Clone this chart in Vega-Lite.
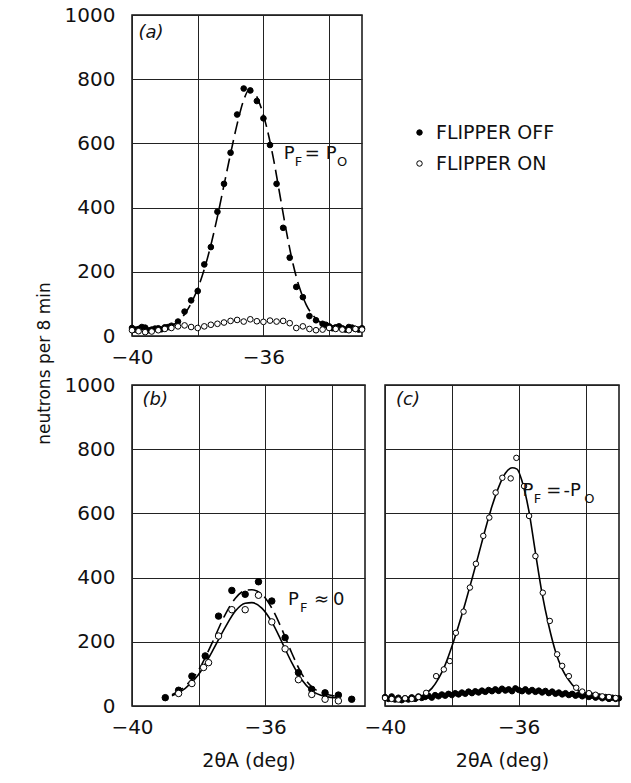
{
  "$schema": "https://vega.github.io/schema/vega-lite/v6.json",
  "padding": {"left": 34, "top": 4, "right": 5, "bottom": 5},
  "background": "white",
  "config": {
    "font": "DejaVu Sans",
    "view": {"stroke": "#111", "strokeWidth": 1.5},
    "axis": {
      "grid": true, "gridColor": "#222", "gridWidth": 1, "gridOpacity": 1,
      "domain": false, "ticks": false,
      "labelFont": "DejaVu Sans", "labelFontSize": 20, "labelColor": "#111",
      "labelFlush": false, "labelOverlap": false,
      "titleFont": "DejaVu Sans", "titleFontWeight": "normal", "titleColor": "#111"
    },
    "axisX": {"labelPadding": 11, "labelDx": -5},
    "axisY": {"labelPadding": 17}
  },
  "datasets": {
    "pts": [
      {"panel":"a","series":"FLIPPER OFF","x":-40.0,"y":25},{"panel":"a","series":"FLIPPER OFF","x":-39.9,"y":20},{"panel":"a","series":"FLIPPER OFF","x":-39.8,"y":22},{"panel":"a","series":"FLIPPER OFF","x":-39.7,"y":28},{"panel":"a","series":"FLIPPER OFF","x":-39.6,"y":26},{"panel":"a","series":"FLIPPER OFF","x":-39.5,"y":18},{"panel":"a","series":"FLIPPER OFF","x":-39.4,"y":20},{"panel":"a","series":"FLIPPER OFF","x":-39.3,"y":23},{"panel":"a","series":"FLIPPER OFF","x":-39.2,"y":24},{"panel":"a","series":"FLIPPER OFF","x":-39.1,"y":21},{"panel":"a","series":"FLIPPER OFF","x":-39.0,"y":27},{"panel":"a","series":"FLIPPER OFF","x":-38.9,"y":28},{"panel":"a","series":"FLIPPER OFF","x":-38.8,"y":32},{"panel":"a","series":"FLIPPER OFF","x":-38.6,"y":45},{"panel":"a","series":"FLIPPER OFF","x":-38.4,"y":76},{"panel":"a","series":"FLIPPER OFF","x":-38.2,"y":111},{"panel":"a","series":"FLIPPER OFF","x":-38.0,"y":140},{"panel":"a","series":"FLIPPER OFF","x":-37.8,"y":223},{"panel":"a","series":"FLIPPER OFF","x":-37.6,"y":277},{"panel":"a","series":"FLIPPER OFF","x":-37.4,"y":387},{"panel":"a","series":"FLIPPER OFF","x":-37.2,"y":474},{"panel":"a","series":"FLIPPER OFF","x":-37.0,"y":571},{"panel":"a","series":"FLIPPER OFF","x":-36.8,"y":690},{"panel":"a","series":"FLIPPER OFF","x":-36.6,"y":771},{"panel":"a","series":"FLIPPER OFF","x":-36.4,"y":765},{"panel":"a","series":"FLIPPER OFF","x":-36.2,"y":732},{"panel":"a","series":"FLIPPER OFF","x":-36.0,"y":678},{"panel":"a","series":"FLIPPER OFF","x":-35.8,"y":595},{"panel":"a","series":"FLIPPER OFF","x":-35.6,"y":474},{"panel":"a","series":"FLIPPER OFF","x":-35.4,"y":337},{"panel":"a","series":"FLIPPER OFF","x":-35.2,"y":244},{"panel":"a","series":"FLIPPER OFF","x":-35.0,"y":153},{"panel":"a","series":"FLIPPER OFF","x":-34.8,"y":121},{"panel":"a","series":"FLIPPER OFF","x":-34.6,"y":62},{"panel":"a","series":"FLIPPER OFF","x":-34.4,"y":49},{"panel":"a","series":"FLIPPER OFF","x":-34.2,"y":38},{"panel":"a","series":"FLIPPER OFF","x":-34.1,"y":35},{"panel":"a","series":"FLIPPER OFF","x":-34.0,"y":30},{"panel":"a","series":"FLIPPER OFF","x":-33.9,"y":24},{"panel":"a","series":"FLIPPER OFF","x":-33.8,"y":27},{"panel":"a","series":"FLIPPER OFF","x":-33.7,"y":30},{"panel":"a","series":"FLIPPER OFF","x":-33.6,"y":24},{"panel":"a","series":"FLIPPER OFF","x":-33.5,"y":20},{"panel":"a","series":"FLIPPER OFF","x":-33.4,"y":28},{"panel":"a","series":"FLIPPER OFF","x":-33.3,"y":26},{"panel":"a","series":"FLIPPER OFF","x":-33.2,"y":22},{"panel":"a","series":"FLIPPER OFF","x":-33.1,"y":20},{"panel":"a","series":"FLIPPER OFF","x":-33.0,"y":24},
      {"panel":"a","series":"FLIPPER ON","x":-40.0,"y":18},{"panel":"a","series":"FLIPPER ON","x":-39.8,"y":15},{"panel":"a","series":"FLIPPER ON","x":-39.6,"y":12},{"panel":"a","series":"FLIPPER ON","x":-39.4,"y":14},{"panel":"a","series":"FLIPPER ON","x":-39.2,"y":18},{"panel":"a","series":"FLIPPER ON","x":-39.0,"y":22},{"panel":"a","series":"FLIPPER ON","x":-38.8,"y":25},{"panel":"a","series":"FLIPPER ON","x":-38.6,"y":30},{"panel":"a","series":"FLIPPER ON","x":-38.4,"y":33},{"panel":"a","series":"FLIPPER ON","x":-38.2,"y":28},{"panel":"a","series":"FLIPPER ON","x":-38.0,"y":25},{"panel":"a","series":"FLIPPER ON","x":-37.8,"y":30},{"panel":"a","series":"FLIPPER ON","x":-37.6,"y":35},{"panel":"a","series":"FLIPPER ON","x":-37.4,"y":38},{"panel":"a","series":"FLIPPER ON","x":-37.2,"y":42},{"panel":"a","series":"FLIPPER ON","x":-37.0,"y":47},{"panel":"a","series":"FLIPPER ON","x":-36.8,"y":50},{"panel":"a","series":"FLIPPER ON","x":-36.6,"y":45},{"panel":"a","series":"FLIPPER ON","x":-36.4,"y":52},{"panel":"a","series":"FLIPPER ON","x":-36.2,"y":46},{"panel":"a","series":"FLIPPER ON","x":-36.0,"y":44},{"panel":"a","series":"FLIPPER ON","x":-35.8,"y":48},{"panel":"a","series":"FLIPPER ON","x":-35.6,"y":45},{"panel":"a","series":"FLIPPER ON","x":-35.4,"y":47},{"panel":"a","series":"FLIPPER ON","x":-35.2,"y":40},{"panel":"a","series":"FLIPPER ON","x":-35.0,"y":25},{"panel":"a","series":"FLIPPER ON","x":-34.8,"y":30},{"panel":"a","series":"FLIPPER ON","x":-34.6,"y":22},{"panel":"a","series":"FLIPPER ON","x":-34.4,"y":18},{"panel":"a","series":"FLIPPER ON","x":-34.2,"y":20},{"panel":"a","series":"FLIPPER ON","x":-34.0,"y":25},{"panel":"a","series":"FLIPPER ON","x":-33.8,"y":22},{"panel":"a","series":"FLIPPER ON","x":-33.6,"y":20},{"panel":"a","series":"FLIPPER ON","x":-33.4,"y":18},{"panel":"a","series":"FLIPPER ON","x":-33.2,"y":22},{"panel":"a","series":"FLIPPER ON","x":-33.0,"y":20},
      {"panel":"b","series":"FLIPPER OFF","x":-39.0,"y":26},{"panel":"b","series":"FLIPPER OFF","x":-38.6,"y":49},{"panel":"b","series":"FLIPPER OFF","x":-38.2,"y":93},{"panel":"b","series":"FLIPPER OFF","x":-37.8,"y":156},{"panel":"b","series":"FLIPPER OFF","x":-37.4,"y":280},{"panel":"b","series":"FLIPPER OFF","x":-37.0,"y":360},{"panel":"b","series":"FLIPPER OFF","x":-36.6,"y":348},{"panel":"b","series":"FLIPPER OFF","x":-36.2,"y":387},{"panel":"b","series":"FLIPPER OFF","x":-35.8,"y":327},{"panel":"b","series":"FLIPPER OFF","x":-35.4,"y":213},{"panel":"b","series":"FLIPPER OFF","x":-35.0,"y":104},{"panel":"b","series":"FLIPPER OFF","x":-34.6,"y":52},{"panel":"b","series":"FLIPPER OFF","x":-34.2,"y":41},{"panel":"b","series":"FLIPPER OFF","x":-33.8,"y":34},{"panel":"b","series":"FLIPPER OFF","x":-33.4,"y":21},
      {"panel":"b","series":"FLIPPER ON","x":-38.6,"y":39},{"panel":"b","series":"FLIPPER ON","x":-38.2,"y":70},{"panel":"b","series":"FLIPPER ON","x":-37.85,"y":120},{"panel":"b","series":"FLIPPER ON","x":-37.7,"y":135},{"panel":"b","series":"FLIPPER ON","x":-37.4,"y":218},{"panel":"b","series":"FLIPPER ON","x":-37.0,"y":300},{"panel":"b","series":"FLIPPER ON","x":-36.6,"y":300},{"panel":"b","series":"FLIPPER ON","x":-36.2,"y":345},{"panel":"b","series":"FLIPPER ON","x":-35.8,"y":262},{"panel":"b","series":"FLIPPER ON","x":-35.4,"y":178},{"panel":"b","series":"FLIPPER ON","x":-35.0,"y":82},{"panel":"b","series":"FLIPPER ON","x":-34.6,"y":36},{"panel":"b","series":"FLIPPER ON","x":-34.2,"y":21},{"panel":"b","series":"FLIPPER ON","x":-33.8,"y":16},
      {"panel":"c","series":"FLIPPER OFF","x":-40.0,"y":28},{"panel":"c","series":"FLIPPER OFF","x":-39.9,"y":22},{"panel":"c","series":"FLIPPER OFF","x":-39.8,"y":30},{"panel":"c","series":"FLIPPER OFF","x":-39.7,"y":20},{"panel":"c","series":"FLIPPER OFF","x":-39.6,"y":26},{"panel":"c","series":"FLIPPER OFF","x":-39.5,"y":18},{"panel":"c","series":"FLIPPER OFF","x":-39.4,"y":24},{"panel":"c","series":"FLIPPER OFF","x":-39.3,"y":20},{"panel":"c","series":"FLIPPER OFF","x":-39.2,"y":27},{"panel":"c","series":"FLIPPER OFF","x":-39.1,"y":22},{"panel":"c","series":"FLIPPER OFF","x":-39.0,"y":30},{"panel":"c","series":"FLIPPER OFF","x":-38.9,"y":25},{"panel":"c","series":"FLIPPER OFF","x":-38.8,"y":28},{"panel":"c","series":"FLIPPER OFF","x":-38.7,"y":32},{"panel":"c","series":"FLIPPER OFF","x":-38.6,"y":26},{"panel":"c","series":"FLIPPER OFF","x":-38.5,"y":34},{"panel":"c","series":"FLIPPER OFF","x":-38.4,"y":30},{"panel":"c","series":"FLIPPER OFF","x":-38.3,"y":36},{"panel":"c","series":"FLIPPER OFF","x":-38.2,"y":32},{"panel":"c","series":"FLIPPER OFF","x":-38.1,"y":38},{"panel":"c","series":"FLIPPER OFF","x":-38.0,"y":34},{"panel":"c","series":"FLIPPER OFF","x":-37.9,"y":40},{"panel":"c","series":"FLIPPER OFF","x":-37.8,"y":36},{"panel":"c","series":"FLIPPER OFF","x":-37.7,"y":42},{"panel":"c","series":"FLIPPER OFF","x":-37.6,"y":38},{"panel":"c","series":"FLIPPER OFF","x":-37.5,"y":45},{"panel":"c","series":"FLIPPER OFF","x":-37.4,"y":40},{"panel":"c","series":"FLIPPER OFF","x":-37.3,"y":46},{"panel":"c","series":"FLIPPER OFF","x":-37.2,"y":42},{"panel":"c","series":"FLIPPER OFF","x":-37.1,"y":48},{"panel":"c","series":"FLIPPER OFF","x":-37.0,"y":44},{"panel":"c","series":"FLIPPER OFF","x":-36.9,"y":50},{"panel":"c","series":"FLIPPER OFF","x":-36.8,"y":46},{"panel":"c","series":"FLIPPER OFF","x":-36.7,"y":52},{"panel":"c","series":"FLIPPER OFF","x":-36.6,"y":47},{"panel":"c","series":"FLIPPER OFF","x":-36.5,"y":54},{"panel":"c","series":"FLIPPER OFF","x":-36.4,"y":48},{"panel":"c","series":"FLIPPER OFF","x":-36.3,"y":52},{"panel":"c","series":"FLIPPER OFF","x":-36.2,"y":46},{"panel":"c","series":"FLIPPER OFF","x":-36.1,"y":55},{"panel":"c","series":"FLIPPER OFF","x":-36.0,"y":50},{"panel":"c","series":"FLIPPER OFF","x":-35.9,"y":46},{"panel":"c","series":"FLIPPER OFF","x":-35.8,"y":52},{"panel":"c","series":"FLIPPER OFF","x":-35.7,"y":45},{"panel":"c","series":"FLIPPER OFF","x":-35.6,"y":50},{"panel":"c","series":"FLIPPER OFF","x":-35.5,"y":44},{"panel":"c","series":"FLIPPER OFF","x":-35.4,"y":48},{"panel":"c","series":"FLIPPER OFF","x":-35.3,"y":42},{"panel":"c","series":"FLIPPER OFF","x":-35.2,"y":47},{"panel":"c","series":"FLIPPER OFF","x":-35.1,"y":40},{"panel":"c","series":"FLIPPER OFF","x":-35.0,"y":45},{"panel":"c","series":"FLIPPER OFF","x":-34.9,"y":38},{"panel":"c","series":"FLIPPER OFF","x":-34.8,"y":42},{"panel":"c","series":"FLIPPER OFF","x":-34.7,"y":36},{"panel":"c","series":"FLIPPER OFF","x":-34.6,"y":40},{"panel":"c","series":"FLIPPER OFF","x":-34.5,"y":34},{"panel":"c","series":"FLIPPER OFF","x":-34.4,"y":38},{"panel":"c","series":"FLIPPER OFF","x":-34.3,"y":32},{"panel":"c","series":"FLIPPER OFF","x":-34.2,"y":36},{"panel":"c","series":"FLIPPER OFF","x":-34.1,"y":30},{"panel":"c","series":"FLIPPER OFF","x":-34.0,"y":34},{"panel":"c","series":"FLIPPER OFF","x":-33.9,"y":28},{"panel":"c","series":"FLIPPER OFF","x":-33.8,"y":32},{"panel":"c","series":"FLIPPER OFF","x":-33.7,"y":26},{"panel":"c","series":"FLIPPER OFF","x":-33.6,"y":30},{"panel":"c","series":"FLIPPER OFF","x":-33.5,"y":24},{"panel":"c","series":"FLIPPER OFF","x":-33.4,"y":28},{"panel":"c","series":"FLIPPER OFF","x":-33.3,"y":22},{"panel":"c","series":"FLIPPER OFF","x":-33.2,"y":26},{"panel":"c","series":"FLIPPER OFF","x":-33.1,"y":22},{"panel":"c","series":"FLIPPER OFF","x":-33.0,"y":24},
      {"panel":"c","series":"FLIPPER ON","x":-40.0,"y":25},{"panel":"c","series":"FLIPPER ON","x":-39.8,"y":22},{"panel":"c","series":"FLIPPER ON","x":-39.6,"y":20},{"panel":"c","series":"FLIPPER ON","x":-39.4,"y":24},{"panel":"c","series":"FLIPPER ON","x":-39.2,"y":22},{"panel":"c","series":"FLIPPER ON","x":-39.0,"y":28},{"panel":"c","series":"FLIPPER ON","x":-38.77,"y":41},{"panel":"c","series":"FLIPPER ON","x":-38.47,"y":93},{"panel":"c","series":"FLIPPER ON","x":-38.24,"y":114},{"panel":"c","series":"FLIPPER ON","x":-38.06,"y":140},{"panel":"c","series":"FLIPPER ON","x":-37.88,"y":228},{"panel":"c","series":"FLIPPER ON","x":-37.65,"y":294},{"panel":"c","series":"FLIPPER ON","x":-37.46,"y":369},{"panel":"c","series":"FLIPPER ON","x":-37.28,"y":443},{"panel":"c","series":"FLIPPER ON","x":-37.06,"y":530},{"panel":"c","series":"FLIPPER ON","x":-36.88,"y":587},{"panel":"c","series":"FLIPPER ON","x":-36.69,"y":665},{"panel":"c","series":"FLIPPER ON","x":-36.49,"y":711},{"panel":"c","series":"FLIPPER ON","x":-36.24,"y":709},{"panel":"c","series":"FLIPPER ON","x":-36.07,"y":773},{"panel":"c","series":"FLIPPER ON","x":-35.84,"y":685},{"panel":"c","series":"FLIPPER ON","x":-35.69,"y":592},{"panel":"c","series":"FLIPPER ON","x":-35.5,"y":467},{"panel":"c","series":"FLIPPER ON","x":-35.28,"y":353},{"panel":"c","series":"FLIPPER ON","x":-35.07,"y":265},{"panel":"c","series":"FLIPPER ON","x":-34.85,"y":161},{"panel":"c","series":"FLIPPER ON","x":-34.7,"y":125},{"panel":"c","series":"FLIPPER ON","x":-34.5,"y":93},{"panel":"c","series":"FLIPPER ON","x":-34.28,"y":57},{"panel":"c","series":"FLIPPER ON","x":-34.1,"y":45},{"panel":"c","series":"FLIPPER ON","x":-33.9,"y":40},{"panel":"c","series":"FLIPPER ON","x":-33.7,"y":35},{"panel":"c","series":"FLIPPER ON","x":-33.5,"y":30},{"panel":"c","series":"FLIPPER ON","x":-33.3,"y":28},{"panel":"c","series":"FLIPPER ON","x":-33.1,"y":25}
    ],
    "fits": [
      {"panel":"a","style":"dash","x":-38.9,"y":28},{"panel":"a","style":"dash","x":-38.6,"y":45},{"panel":"a","style":"dash","x":-38.4,"y":68},{"panel":"a","style":"dash","x":-38.2,"y":102},{"panel":"a","style":"dash","x":-38.0,"y":148},{"panel":"a","style":"dash","x":-37.8,"y":208},{"panel":"a","style":"dash","x":-37.6,"y":283},{"panel":"a","style":"dash","x":-37.4,"y":372},{"panel":"a","style":"dash","x":-37.2,"y":470},{"panel":"a","style":"dash","x":-37.0,"y":568},{"panel":"a","style":"dash","x":-36.8,"y":660},{"panel":"a","style":"dash","x":-36.6,"y":735},{"panel":"a","style":"dash","x":-36.45,"y":765},{"panel":"a","style":"dash","x":-36.3,"y":760},{"panel":"a","style":"dash","x":-36.1,"y":720},{"panel":"a","style":"dash","x":-35.9,"y":650},{"panel":"a","style":"dash","x":-35.7,"y":555},{"panel":"a","style":"dash","x":-35.5,"y":440},{"panel":"a","style":"dash","x":-35.3,"y":325},{"panel":"a","style":"dash","x":-35.1,"y":225},{"panel":"a","style":"dash","x":-34.9,"y":150},{"panel":"a","style":"dash","x":-34.7,"y":98},{"panel":"a","style":"dash","x":-34.5,"y":65},{"panel":"a","style":"dash","x":-34.3,"y":45},{"panel":"a","style":"dash","x":-34.0,"y":32},{"panel":"a","style":"dash","x":-33.6,"y":25},
      {"panel":"b","style":"dash","x":-38.8,"y":35},{"panel":"b","style":"dash","x":-38.4,"y":62},{"panel":"b","style":"dash","x":-38.0,"y":112},{"panel":"b","style":"dash","x":-37.6,"y":195},{"panel":"b","style":"dash","x":-37.2,"y":285},{"panel":"b","style":"dash","x":-36.9,"y":335},{"panel":"b","style":"dash","x":-36.6,"y":360},{"panel":"b","style":"dash","x":-36.4,"y":362},{"panel":"b","style":"dash","x":-36.1,"y":348},{"panel":"b","style":"dash","x":-35.8,"y":305},{"panel":"b","style":"dash","x":-35.5,"y":240},{"panel":"b","style":"dash","x":-35.2,"y":165},{"panel":"b","style":"dash","x":-34.9,"y":100},{"panel":"b","style":"dash","x":-34.6,"y":60},{"panel":"b","style":"dash","x":-34.2,"y":38},{"panel":"b","style":"dash","x":-33.8,"y":30},
      {"panel":"b","style":"solid","x":-38.8,"y":32},{"panel":"b","style":"solid","x":-38.4,"y":55},{"panel":"b","style":"solid","x":-38.0,"y":98},{"panel":"b","style":"solid","x":-37.6,"y":168},{"panel":"b","style":"solid","x":-37.2,"y":245},{"panel":"b","style":"solid","x":-36.9,"y":295},{"panel":"b","style":"solid","x":-36.6,"y":320},{"panel":"b","style":"solid","x":-36.4,"y":322},{"panel":"b","style":"solid","x":-36.1,"y":305},{"panel":"b","style":"solid","x":-35.8,"y":262},{"panel":"b","style":"solid","x":-35.5,"y":200},{"panel":"b","style":"solid","x":-35.2,"y":135},{"panel":"b","style":"solid","x":-34.9,"y":82},{"panel":"b","style":"solid","x":-34.6,"y":48},{"panel":"b","style":"solid","x":-34.2,"y":30},{"panel":"b","style":"solid","x":-33.8,"y":25},
      {"panel":"c","style":"solid","x":-39.2,"y":22},{"panel":"c","style":"solid","x":-38.8,"y":38},{"panel":"c","style":"solid","x":-38.6,"y":55},{"panel":"c","style":"solid","x":-38.4,"y":85},{"panel":"c","style":"solid","x":-38.2,"y":128},{"panel":"c","style":"solid","x":-38.0,"y":185},{"panel":"c","style":"solid","x":-37.8,"y":250},{"panel":"c","style":"solid","x":-37.6,"y":320},{"panel":"c","style":"solid","x":-37.4,"y":395},{"panel":"c","style":"solid","x":-37.2,"y":472},{"panel":"c","style":"solid","x":-37.0,"y":550},{"panel":"c","style":"solid","x":-36.8,"y":622},{"panel":"c","style":"solid","x":-36.6,"y":682},{"panel":"c","style":"solid","x":-36.4,"y":725},{"panel":"c","style":"solid","x":-36.2,"y":742},{"panel":"c","style":"solid","x":-36.05,"y":738},{"panel":"c","style":"solid","x":-35.9,"y":700},{"panel":"c","style":"solid","x":-35.7,"y":610},{"panel":"c","style":"solid","x":-35.5,"y":478},{"panel":"c","style":"solid","x":-35.3,"y":350},{"panel":"c","style":"solid","x":-35.1,"y":250},{"panel":"c","style":"solid","x":-34.9,"y":170},{"panel":"c","style":"solid","x":-34.7,"y":115},{"panel":"c","style":"solid","x":-34.5,"y":80},{"panel":"c","style":"solid","x":-34.3,"y":55},{"panel":"c","style":"solid","x":-34.0,"y":38},{"panel":"c","style":"solid","x":-33.6,"y":30},{"panel":"c","style":"solid","x":-33.0,"y":25}
    ],
    "notes": [
      {"panel":"a","kind":"tag","x":-39.42,"y":944,"label":"(a)"},
      {"panel":"a","kind":"main","x":-35.38,"y":551,"label":"P"},
      {"panel":"a","kind":"main","x":-34.74,"y":551,"label":"="},
      {"panel":"a","kind":"main","x":-34.10,"y":551,"label":"P"},
      {"panel":"a","kind":"sub","x":-35.05,"y":530,"label":"F"},
      {"panel":"a","kind":"sub","x":-33.76,"y":530,"label":"O"},
      {"panel":"b","kind":"tag","x":-39.3,"y":953,"label":"(b)"},
      {"panel":"b","kind":"main","x":-35.31,"y":315,"label":"P"},
      {"panel":"b","kind":"main","x":-34.53,"y":315,"label":"≈"},
      {"panel":"b","kind":"main","x":-33.96,"y":315,"label":"0"},
      {"panel":"b","kind":"sub","x":-34.95,"y":293,"label":"F"},
      {"panel":"c","kind":"tag","x":-39.31,"y":953,"label":"(c)"},
      {"panel":"c","kind":"main","x":-35.89,"y":654,"label":"P"},
      {"panel":"c","kind":"main","x":-35.18,"y":654,"label":"="},
      {"panel":"c","kind":"main","x":-34.66,"y":654,"label":"-P"},
      {"panel":"c","kind":"sub","x":-35.55,"y":632,"label":"F"},
      {"panel":"c","kind":"sub","x":-34.04,"y":632,"label":"O"}
    ]
  },
  "resolve": {"scale": {"fill": "independent"}, "legend": {"fill": "independent"}},
  "bounds": "flush",
  "spacing": 49,
  "vconcat": [
    {
      "width": 230, "height": 321,
      "encoding": {
        "x": {"field": "x", "type": "quantitative", "scale": {"domain": [-40, -33], "nice": false, "zero": false},
          "axis": {"title": null, "values": [-40, -38, -36, -34], "labelExpr": "datum.value == -40 || datum.value == -36 ? datum.label : ''"}},
        "y": {"field": "y", "type": "quantitative", "scale": {"domain": [0, 1000], "nice": false},
          "axis": {"values": [0, 200, 400, 600, 800, 1000], "format": "d", "title": "neutrons per 8 min", "titleX": -83, "titleY": 348, "titleAngle": -90, "titleAlign": "center", "titleBaseline": "alphabetic", "titleFontSize": 17}}
      },
      "layer": [
        {"data": {"name": "fits"}, "transform": [{"filter": "datum.panel == 'a'"}],
         "mark": {"type": "line", "stroke": "black", "strokeWidth": 1.6, "strokeDash": [13, 6], "interpolate": "monotone"}},
        {"data": {"name": "pts"}, "transform": [{"filter": "datum.panel == 'a'"}],
         "mark": {"type": "circle", "stroke": "black", "strokeWidth": 1, "size": 32, "opacity": 1},
         "encoding": {"fill": {"field": "series", "type": "nominal",
           "scale": {"domain": ["FLIPPER OFF", "FLIPPER ON"], "range": ["black", "white"]},
           "legend": {"orient": "none", "legendX": 278, "legendY": 108, "title": null, "padding": 0,
             "labelFont": "DejaVu Sans", "labelFontSize": 19, "labelColor": "#111", "labelOffset": 7,
             "symbolType": "circle", "symbolSize": 30, "symbolStrokeColor": "black", "symbolStrokeWidth": 1, "rowPadding": 11}}}},
        {"data": {"name": "notes"}, "transform": [{"filter": "datum.panel == 'a' && datum.kind == 'main'"}],
         "mark": {"type": "text", "align": "left", "baseline": "alphabetic", "fontSize": 18, "fill": "#111"},
         "encoding": {"text": {"field": "label"}}},
        {"data": {"name": "notes"}, "transform": [{"filter": "datum.panel == 'a' && datum.kind == 'sub'"}],
         "mark": {"type": "text", "align": "left", "baseline": "alphabetic", "fontSize": 13, "fill": "#111"},
         "encoding": {"text": {"field": "label"}}},
        {"data": {"name": "notes"}, "transform": [{"filter": "datum.panel == 'a' && datum.kind == 'tag'"}],
         "mark": {"type": "text", "align": "center", "baseline": "middle", "fontSize": 18, "fontStyle": "italic", "fill": "#111"},
         "encoding": {"text": {"field": "label"}}}
      ]
    },
    {
      "resolve": {"scale": {"fill": "independent"}, "legend": {"fill": "independent"}},
      "bounds": "flush",
      "spacing": 20,
      "hconcat": [
        {
          "width": 233, "height": 321,
          "encoding": {
            "x": {"field": "x", "type": "quantitative", "scale": {"domain": [-40, -33], "nice": false, "zero": false},
              "axis": {"title": "2θA (deg)", "titleFontSize": 19, "titlePadding": 14, "values": [-40, -38, -36, -34], "labelExpr": "datum.value == -40 || datum.value == -36 ? datum.label : ''"}},
            "y": {"field": "y", "type": "quantitative", "scale": {"domain": [0, 1000], "nice": false},
              "axis": {"title": null, "values": [0, 200, 400, 600, 800, 1000], "format": "d"}}
          },
          "layer": [
            {"data": {"name": "fits"}, "transform": [{"filter": "datum.panel == 'b' && datum.style == 'dash'"}],
             "mark": {"type": "line", "stroke": "black", "strokeWidth": 1.6, "strokeDash": [13, 6], "interpolate": "monotone"}},
            {"data": {"name": "fits"}, "transform": [{"filter": "datum.panel == 'b' && datum.style == 'solid'"}],
             "mark": {"type": "line", "stroke": "black", "strokeWidth": 1.6, "interpolate": "monotone"}},
            {"data": {"name": "pts"}, "transform": [{"filter": "datum.panel == 'b'"}],
             "mark": {"type": "circle", "stroke": "black", "strokeWidth": 1, "size": 42, "opacity": 1},
             "encoding": {"fill": {"field": "series", "type": "nominal",
               "scale": {"domain": ["FLIPPER OFF", "FLIPPER ON"], "range": ["black", "white"]}, "legend": null}}},
            {"data": {"name": "notes"}, "transform": [{"filter": "datum.panel == 'b' && datum.kind == 'main'"}],
             "mark": {"type": "text", "align": "left", "baseline": "alphabetic", "fontSize": 18, "fill": "#111"},
             "encoding": {"text": {"field": "label"}}},
            {"data": {"name": "notes"}, "transform": [{"filter": "datum.panel == 'b' && datum.kind == 'sub'"}],
             "mark": {"type": "text", "align": "left", "baseline": "alphabetic", "fontSize": 13, "fill": "#111"},
             "encoding": {"text": {"field": "label"}}},
            {"data": {"name": "notes"}, "transform": [{"filter": "datum.panel == 'b' && datum.kind == 'tag'"}],
             "mark": {"type": "text", "align": "center", "baseline": "middle", "fontSize": 18, "fontStyle": "italic", "fill": "#111"},
             "encoding": {"text": {"field": "label"}}}
          ]
        },
        {
          "width": 234, "height": 321,
          "encoding": {
            "x": {"field": "x", "type": "quantitative", "scale": {"domain": [-40, -33], "nice": false, "zero": false},
              "axis": {"title": "2θA (deg)", "titleFontSize": 19, "titlePadding": 14, "values": [-40, -38, -36, -34], "labelExpr": "datum.value == -40 || datum.value == -36 ? datum.label : ''"}},
            "y": {"field": "y", "type": "quantitative", "scale": {"domain": [0, 1000], "nice": false},
              "axis": {"title": null, "labels": false, "values": [0, 200, 400, 600, 800, 1000]}}
          },
          "layer": [
            {"data": {"name": "fits"}, "transform": [{"filter": "datum.panel == 'c'"}],
             "mark": {"type": "line", "stroke": "black", "strokeWidth": 1.6, "interpolate": "monotone"}},
            {"data": {"name": "pts"}, "transform": [{"filter": "datum.panel == 'c'"}],
             "mark": {"type": "circle", "stroke": "black", "strokeWidth": 1, "size": 30, "opacity": 1},
             "encoding": {"fill": {"field": "series", "type": "nominal",
               "scale": {"domain": ["FLIPPER OFF", "FLIPPER ON"], "range": ["black", "white"]}, "legend": null}}},
            {"data": {"name": "notes"}, "transform": [{"filter": "datum.panel == 'c' && datum.kind == 'main'"}],
             "mark": {"type": "text", "align": "left", "baseline": "alphabetic", "fontSize": 18, "fill": "#111"},
             "encoding": {"text": {"field": "label"}}},
            {"data": {"name": "notes"}, "transform": [{"filter": "datum.panel == 'c' && datum.kind == 'sub'"}],
             "mark": {"type": "text", "align": "left", "baseline": "alphabetic", "fontSize": 13, "fill": "#111"},
             "encoding": {"text": {"field": "label"}}},
            {"data": {"name": "notes"}, "transform": [{"filter": "datum.panel == 'c' && datum.kind == 'tag'"}],
             "mark": {"type": "text", "align": "center", "baseline": "middle", "fontSize": 18, "fontStyle": "italic", "fill": "#111"},
             "encoding": {"text": {"field": "label"}}}
          ]
        }
      ]
    }
  ]
}
